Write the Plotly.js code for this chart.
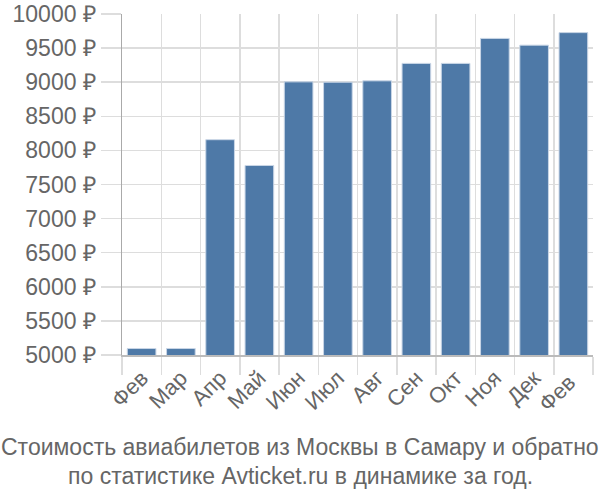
<!DOCTYPE html>
<html><head><meta charset="utf-8">
<script src="https://cdn.plot.ly/plotly-3.0.1.min.js"></script>
<style>html,body{margin:0;padding:0;background:#fff}</style>
</head><body>
<div id="chart" style="width:600px;height:500px"></div>
<script>
const months = ["Фев","Мар","Апр","Май","Июн","Июл","Авг","Сен","Окт","Ноя","Дек","Фев "];
const prices = [5095, 5095, 8157, 7779, 9005, 9000, 9020, 9276, 9276, 9642, 9543, 9727];
const yTicks = [5000,5500,6000,6500,7000,7500,8000,8500,9000,9500,10000];
const yTickText = yTicks.map(v => v + " ₽");
const captionLines = ["Стоимость авиабилетов из Москвы в Самару и обратно","по статистике Avticket.ru в динамике за год."];

const trace = {
  type: "bar",
  x: months,
  y: prices,
  marker: {color: "#4e79a7", line: {color: "#c9d6e6", width: 1}},
  width: 0.73,
  hoverinfo: "none"
};
const layout = {
  width: 600, height: 500,
  margin: {l: 122, r: 7, t: 14, b: 145},
  paper_bgcolor: "#fff", plot_bgcolor: "#fff",
  font: {family: "Liberation Sans, Arial, sans-serif", color: "#666"},
  showlegend: false,
  xaxis: {
    type: "category",
    tickson: "boundaries",
    ticks: "outside", ticklen: 18, tickcolor: "#dddddd", tickwidth: 1.5,
    showgrid: true, gridcolor: "#dddddd", gridwidth: 1.5,
    showline: true, linecolor: "#bbbbbb", linewidth: 1.5,
    tickangle: -45,
    tickfont: {size: 22, color: "#666"},
    automargin: false,
    fixedrange: true
  },
  yaxis: {
    range: [5000, 10000],
    tickvals: yTicks, ticktext: yTickText,
    ticks: "outside", ticklen: 20, tickcolor: "#dddddd", tickwidth: 1.5,
    showgrid: true, gridcolor: "#dddddd", gridwidth: 1.5,
    showline: true, linecolor: "#aaaaaa", linewidth: 1.5,
    zeroline: false,
    tickfont: {size: 23, color: "#666"},
    automargin: false,
    fixedrange: true
  },
  annotations: [
    {text: captionLines[0], xref: "paper", yref: "paper", x: 0.378, xanchor: "center", y: -0.270, yanchor: "middle", showarrow: false, font: {size: 23, color: "#666"}},
    {text: captionLines[1], xref: "paper", yref: "paper", x: 0.378, xanchor: "center", y: -0.355, yanchor: "middle", showarrow: false, font: {size: 23, color: "#666"}}
  ]
};
Plotly.newPlot("chart", [trace], layout, {displayModeBar: false, staticPlot: true});
</script>
</body></html>
